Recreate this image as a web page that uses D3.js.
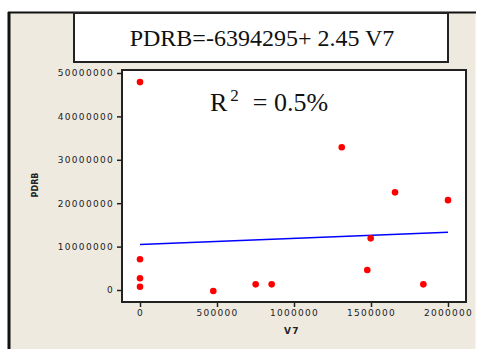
<!DOCTYPE html>
<html>
<head>
<meta charset="utf-8">
<script src="https://cdn.jsdelivr.net/npm/d3@7"></script>
<style>
  html, body { margin: 0; padding: 0; background: #fff; }
  svg { display: block; }
</style>
</head>
<body>
<svg id="chart"></svg>
<script>
// ── Data ──────────────────────────────────────────────────────────────────
const v7   = [0, 0, 0, 0, 1310000, 1656000, 2000000, 1498000, 476000, 751000, 855000, 1476000, 1840000];
const pdrb = [47900000, 7070000, 2700000, 760000, 32900000, 22500000, 20700000, 11900000, -230000, 1300000, 1300000, 4600000, 1300000];

// fitted line as drawn (x range and y at each end)
const fitX = [0, 2000000];
const fitY = [10500000, 13300000];

const xTicks = [0, 500000, 1000000, 1500000, 2000000];
const yTicks = [0, 10000000, 20000000, 30000000, 40000000, 50000000];

const equation = "PDRB=-6394295+ 2.45 V7";

const W = 477, H = 349;
const svg = d3.select("#chart").attr("width", W).attr("height", H);

// ── Frame and panels ─────────────────────────────────────────────────────
svg.append("rect")
    .attr("x", 8.5).attr("y", 12).attr("width", 467).attr("height", 345)
    .attr("fill", "#eeeae0");
svg.append("line")
    .attr("x1", 8).attr("x2", 476).attr("y1", 12.5).attr("y2", 12.5)
    .attr("stroke", "#111").attr("stroke-width", 2);
svg.append("line")
    .attr("x1", 9).attr("x2", 9).attr("y1", 12).attr("y2", H)
    .attr("stroke", "#111").attr("stroke-width", 3);

// title box
svg.append("rect")
    .attr("x", 74).attr("y", 13).attr("width", 374).attr("height", 49)
    .attr("fill", "#fff").attr("stroke", "#222").attr("stroke-width", 2);
svg.append("text")
    .attr("x", 262).attr("y", 46)
    .attr("text-anchor", "middle")
    .attr("font-family", "Liberation Serif, Times New Roman, serif")
    .attr("font-size", 24)
    .attr("fill", "#111")
    .text(equation);

// plot box
const px0 = 122, px1 = 466, py0 = 70, py1 = 302;
svg.append("rect")
    .attr("x", px0).attr("y", py0).attr("width", px1 - px0).attr("height", py1 - py0)
    .attr("fill", "#fff").attr("stroke", "#222").attr("stroke-width", 2);

// ── Scales ────────────────────────────────────────────────────────────────
const x = d3.scaleLinear().domain([0, 2000000]).range([140, 448]);
const y = d3.scaleLinear().domain([0, 50000000]).range([290, 73]);

const tickFont = g => g.selectAll("text")
    .attr("font-family", "DejaVu Sans, sans-serif")
    .attr("font-size", 9)
    .attr("letter-spacing", 1.3)
    .attr("fill", "#222");

// ── Axes ──────────────────────────────────────────────────────────────────
svg.append("g")
    .attr("transform", `translate(${px0},0)`)
    .call(d3.axisLeft(y).tickValues(yTicks).tickSize(5).tickPadding(3).tickFormat(d3.format("d")))
    .call(g => g.select(".domain").remove())
    .call(g => g.selectAll("line").attr("stroke", "#222").attr("stroke-width", 1.5))
    .call(tickFont);

svg.append("g")
    .attr("transform", `translate(0,${py1})`)
    .call(d3.axisBottom(x).tickValues(xTicks).tickSize(5).tickPadding(3).tickFormat(d3.format("d")))
    .call(g => g.select(".domain").remove())
    .call(g => g.selectAll("line").attr("stroke", "#222").attr("stroke-width", 1.5))
    .call(tickFont);

// ── Axis labels ───────────────────────────────────────────────────────────
svg.append("text")
    .attr("x", 292).attr("y", 334)
    .attr("text-anchor", "middle")
    .attr("font-family", "DejaVu Sans, sans-serif")
    .attr("font-size", 9).attr("font-weight", "bold")
    .attr("letter-spacing", 1.5)
    .attr("fill", "#222")
    .text("V7");

svg.append("text")
    .attr("transform", "translate(38,185) rotate(-90)")
    .attr("text-anchor", "middle")
    .attr("font-family", "DejaVu Sans, sans-serif")
    .attr("font-size", 8).attr("font-weight", "bold")
    .attr("fill", "#222")
    .text("PDRB");

// ── Fitted line ───────────────────────────────────────────────────────────
svg.append("path")
    .datum(fitX.map((d, i) => [d, fitY[i]]))
    .attr("fill", "none")
    .attr("stroke", "#0000ff")
    .attr("stroke-width", 1.6)
    .attr("d", d3.line().x(d => x(d[0])).y(d => y(d[1])));

// ── Points ────────────────────────────────────────────────────────────────
svg.append("g")
    .selectAll("path")
    .data(v7.map((d, i) => ({ x: d, y: pdrb[i] })))
    .join("path")
    .attr("transform", d => `translate(${x(d.x)},${y(d.y)})`)
    .attr("d", d3.symbol(d3.symbolCircle, 34))
    .attr("fill", "#ff0000");

// ── R squared ─────────────────────────────────────────────────────────────
const r2 = svg.append("text")
    .attr("x", 210).attr("y", 111)
    .attr("font-family", "Liberation Serif, Times New Roman, serif")
    .attr("font-size", 26)
    .attr("fill", "#111");
r2.append("tspan").text("R");
r2.append("tspan").attr("dy", -10).attr("dx", 3).attr("font-size", 17).text("2");
r2.append("tspan").attr("dy", 10).attr("dx", 14).text("= 0.5%");
</script>
</body>
</html>
